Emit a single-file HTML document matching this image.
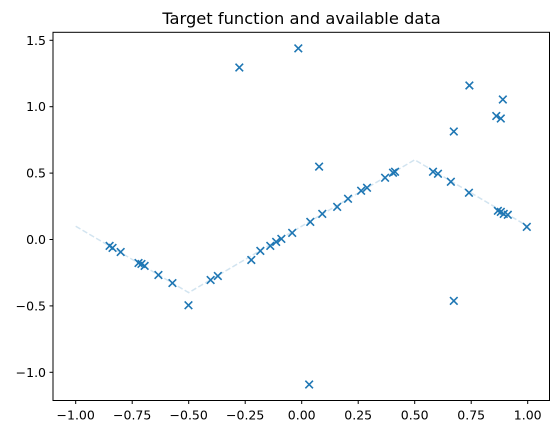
<!DOCTYPE html>
<html><head><meta charset="utf-8"><style>
body{margin:0;background:#fff;}
svg{display:block;font-family:"DejaVu Sans","Liberation Sans",sans-serif;}
</style></head><body>
<svg id="chart" width="559" height="435">
<text x="301.5" y="24" text-anchor="middle" font-size="16.3" fill="#000">Target function and available data</text>
<g id="plot"></g>
</svg>
<script>
const xTicks=[-1.0,-0.75,-0.5,-0.25,0,0.25,0.5,0.75,1.0];
const xTickLabels=["−1.00","−0.75","−0.50","−0.25","0.00","0.25","0.50","0.75","1.00"];
const yTicks=[-1.0,-0.5,0,0.5,1.0,1.5];
const yTickLabels=["−1.0","−0.5","0.0","0.5","1.0","1.5"];
const targetX=[-1,-0.5,0.5,1];
const targetY=[0.1,-0.4,0.6,0.1];
const dataX=[-0.850,-0.837,-0.801,-0.722,-0.709,-0.695,-0.634,-0.572,-0.501,-0.403,-0.371,-0.223,-0.183,-0.139,-0.113,-0.090,-0.042,0.038,0.091,0.157,0.205,0.263,0.289,0.369,0.404,0.413,0.581,0.603,0.660,0.740,0.868,0.881,0.894,0.912,0.996,-0.276,-0.015,0.077,0.033,0.673,0.742,0.861,0.890,0.881,0.673];
const dataY=[-0.048,-0.063,-0.094,-0.177,-0.184,-0.199,-0.267,-0.328,-0.495,-0.305,-0.275,-0.154,-0.086,-0.048,-0.018,0.005,0.050,0.133,0.193,0.246,0.307,0.367,0.390,0.465,0.503,0.510,0.510,0.495,0.435,0.352,0.216,0.208,0.193,0.186,0.095,1.295,1.439,0.549,-1.092,0.813,1.160,0.930,1.054,0.911,-0.462];
const L=53,R=549.5,T=32.3,B=400.5;
const sx=v=>301.7+v*226;
const sy=v=>239.5-v*132.8;
const NS="http://www.w3.org/2000/svg";
const g=document.getElementById('plot');
function mk(t,a){const e=document.createElementNS(NS,t);for(const k in a)e.setAttribute(k,a[k]);g.appendChild(e);return e;}
const tl=mk('polyline',{points:targetX.map((x,i)=>sx(x)+','+sy(targetY[i])).join(' '),fill:'none',stroke:'#1f77b4','stroke-opacity':0.2,'stroke-width':1.5,'stroke-dasharray':'5.5,2.4'});


dataX.forEach((x,i)=>{const cx=sx(x),cy=sy(dataY[i]),d=3.8;
const p=mk('path',{d:`M${cx-d},${cy-d}L${cx+d},${cy+d}M${cx-d},${cy+d}L${cx+d},${cy-d}`,stroke:'#1f77b4','stroke-width':1.6,fill:'none'});

});
const fr=mk('rect',{x:L,y:T,width:R-L,height:B-T,fill:'none',stroke:'#000','stroke-width':1});


xTicks.forEach((v,i)=>{const x=sx(v);mk('line',{x1:x,x2:x,y1:B,y2:B+3.5,stroke:'#000'});
const t=mk('text',{x:x,y:B+19,'text-anchor':'middle','font-size':12.5,fill:'#000'});t.textContent=xTickLabels[i];

});
yTicks.forEach((v,i)=>{const y=sy(v);mk('line',{x1:L-3.5,x2:L,y1:y,y2:y,stroke:'#000'});
const t=mk('text',{x:L-7,y:y+4.5,'text-anchor':'end','font-size':12.5,fill:'#000'});t.textContent=yTickLabels[i];

});
</script>
</body></html>
